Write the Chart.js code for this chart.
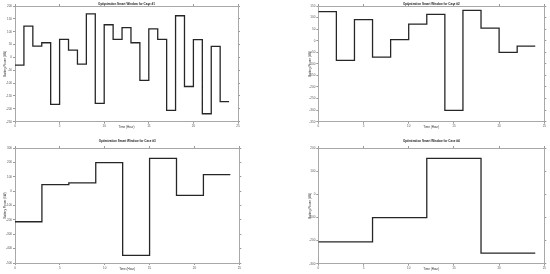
<!DOCTYPE html>
<html>
<head>
<meta charset="utf-8">
<script src="https://cdn.jsdelivr.net/npm/chart.js@4.4.1/dist/chart.umd.min.js"></script>
<style>
  body { margin: 0; background: #fff; }
  #wrap { position: relative; width: 550px; height: 274px; }
  canvas { position: absolute; }
</style>
</head>
<body>
<div id="wrap">
  <canvas id="case1" width="275" height="137" style="left:0;top:0"></canvas>
  <canvas id="case2" width="275" height="137" style="left:275px;top:0"></canvas>
  <canvas id="case3" width="275" height="137" style="left:0;top:137px"></canvas>
  <canvas id="case4" width="275" height="137" style="left:275px;top:137px"></canvas>
</div>
<script>
// battery power per time slot (kW)
const case1Power = [-30, 122, 44, 57, -183, 70, 28, -26, 169, -179, 127, 70,
                    116, 57, -89, 111, 70, -206, 162, -113, 69, -219, 43, -172];
const case2Power = [126, -85, 91, -71, 5, 72, 114, -301, 131, 54, -50, -23];
const case3Power = [-213, 45, 57, 198, -447, 228, -29, 115];
const case4Power = [-206, -101, 155, -254];

// slot length in hours
const case1Step = 1;
const case2Step = 2;
const case3Step = 3;
const case4Step = 6;

// tick labels
const hourTicks = [0, 5, 10, 15, 20, 25];
const case1YTicks = [-250, -200, -150, -100, -50, 0, 50, 100, 150, 200];
const case2YTicks = [-350, -300, -250, -200, -150, -100, -50, 0, 50, 100, 150];
const case3YTicks = [-500, -400, -300, -200, -100, 0, 100, 200, 300];
const case4YTicks = [-300, -200, -100, 0, 100, 200];

const titles = [
  'Optimization Smart Window for Case #1',
  'Optimization Smart Window for Case #2',
  'Optimization Smart Window for Case #3',
  'Optimization Smart Window for Case #4'
];

function drawCase(id, title, power, stepHours, yTicks, box) {
  const pts = power.map((v, i) => ({x: i * stepHours, y: v}));
  pts.push({x: power.length * stepHours, y: power[power.length - 1]});

  const fit = size => (s => { if (s.isHorizontal()) s.height = size; else s.width = size; });
  const setTicks = vals => (s => { s.ticks = vals.map(v => ({value: v})); });
  const grid = {drawOnChartArea: false, tickLength: 2, tickColor: '#9a9a9a'};
  const border = {display: true, color: '#a8a8a8', width: 1};
  const small = {family: 'Liberation Sans, Arial, sans-serif', size: 3};
  const yMin = yTicks[0], yMax = yTicks[yTicks.length - 1];
  const xMin = hourTicks[0], xMax = hourTicks[hourTicks.length - 1];

  new Chart(id, {
    type: 'line',
    data: {
      datasets: [{
        data: pts,
        stepped: 'before',
        borderColor: '#262626',
        borderWidth: 1.3,
        pointRadius: 0,
        fill: false
      }]
    },
    options: {
      responsive: false,
      animation: false,
      layout: {padding: 0},
      plugins: {
        legend: {display: false},
        tooltip: {enabled: false}
      },
      scales: {
        x: {
          type: 'linear', position: 'bottom', min: xMin, max: xMax,
          afterBuildTicks: setTicks(hourTicks), afterFit: fit(box.bottom),
          grid: grid, border: border,
          ticks: {font: small, color: '#555', padding: 1, maxRotation: 0},
          title: {display: true, text: 'Time (Hour)', font: small, color: '#333',
                  padding: {top: 0, bottom: box.xTitle}}
        },
        x2: {
          type: 'linear', axis: 'x', position: 'top', min: xMin, max: xMax,
          afterBuildTicks: setTicks(hourTicks), afterFit: fit(box.top),
          grid: grid, border: border,
          ticks: {display: false},
          title: {display: true, text: title, color: '#222',
                  font: {family: 'Liberation Sans, Arial, sans-serif', size: 3, weight: 'bold'},
                  padding: {top: 2.5, bottom: 0}}
        },
        y: {
          type: 'linear', position: 'left', min: yMin, max: yMax,
          afterBuildTicks: setTicks(yTicks), afterFit: fit(box.left),
          grid: grid, border: border,
          ticks: {font: small, color: '#555', padding: 1},
          title: {display: true, text: 'Battery Power (kW)', font: small, color: '#333',
                  padding: {top: box.yTitle, bottom: 0}}
        },
        y2: {
          type: 'linear', axis: 'y', position: 'right', min: yMin, max: yMax,
          afterBuildTicks: setTicks(yTicks), afterFit: fit(box.right),
          grid: grid, border: border,
          ticks: {display: false}
        }
      }
    }
  });
}

drawCase('case1', titles[0], case1Power, case1Step, case1YTicks,
         {left: 15, right: 37, top: 6, bottom: 15.3, xTitle: 7.9, yTitle: 2.9});
drawCase('case2', titles[1], case2Power, case2Step, case2YTicks,
         {left: 43.3, right: 5.7, top: 6, bottom: 15.3, xTitle: 7.9, yTitle: 33.2});
drawCase('case3', titles[2], case3Power, case3Step, case3YTicks,
         {left: 15, right: 35.7, top: 11, bottom: 11, xTitle: 2.9, yTitle: 3.2});
drawCase('case4', titles[3], case4Power, case4Step, case4YTicks,
         {left: 43.3, right: 5.7, top: 11, bottom: 10.3, xTitle: 2.9, yTitle: 33.2});
</script>
</body>
</html>
